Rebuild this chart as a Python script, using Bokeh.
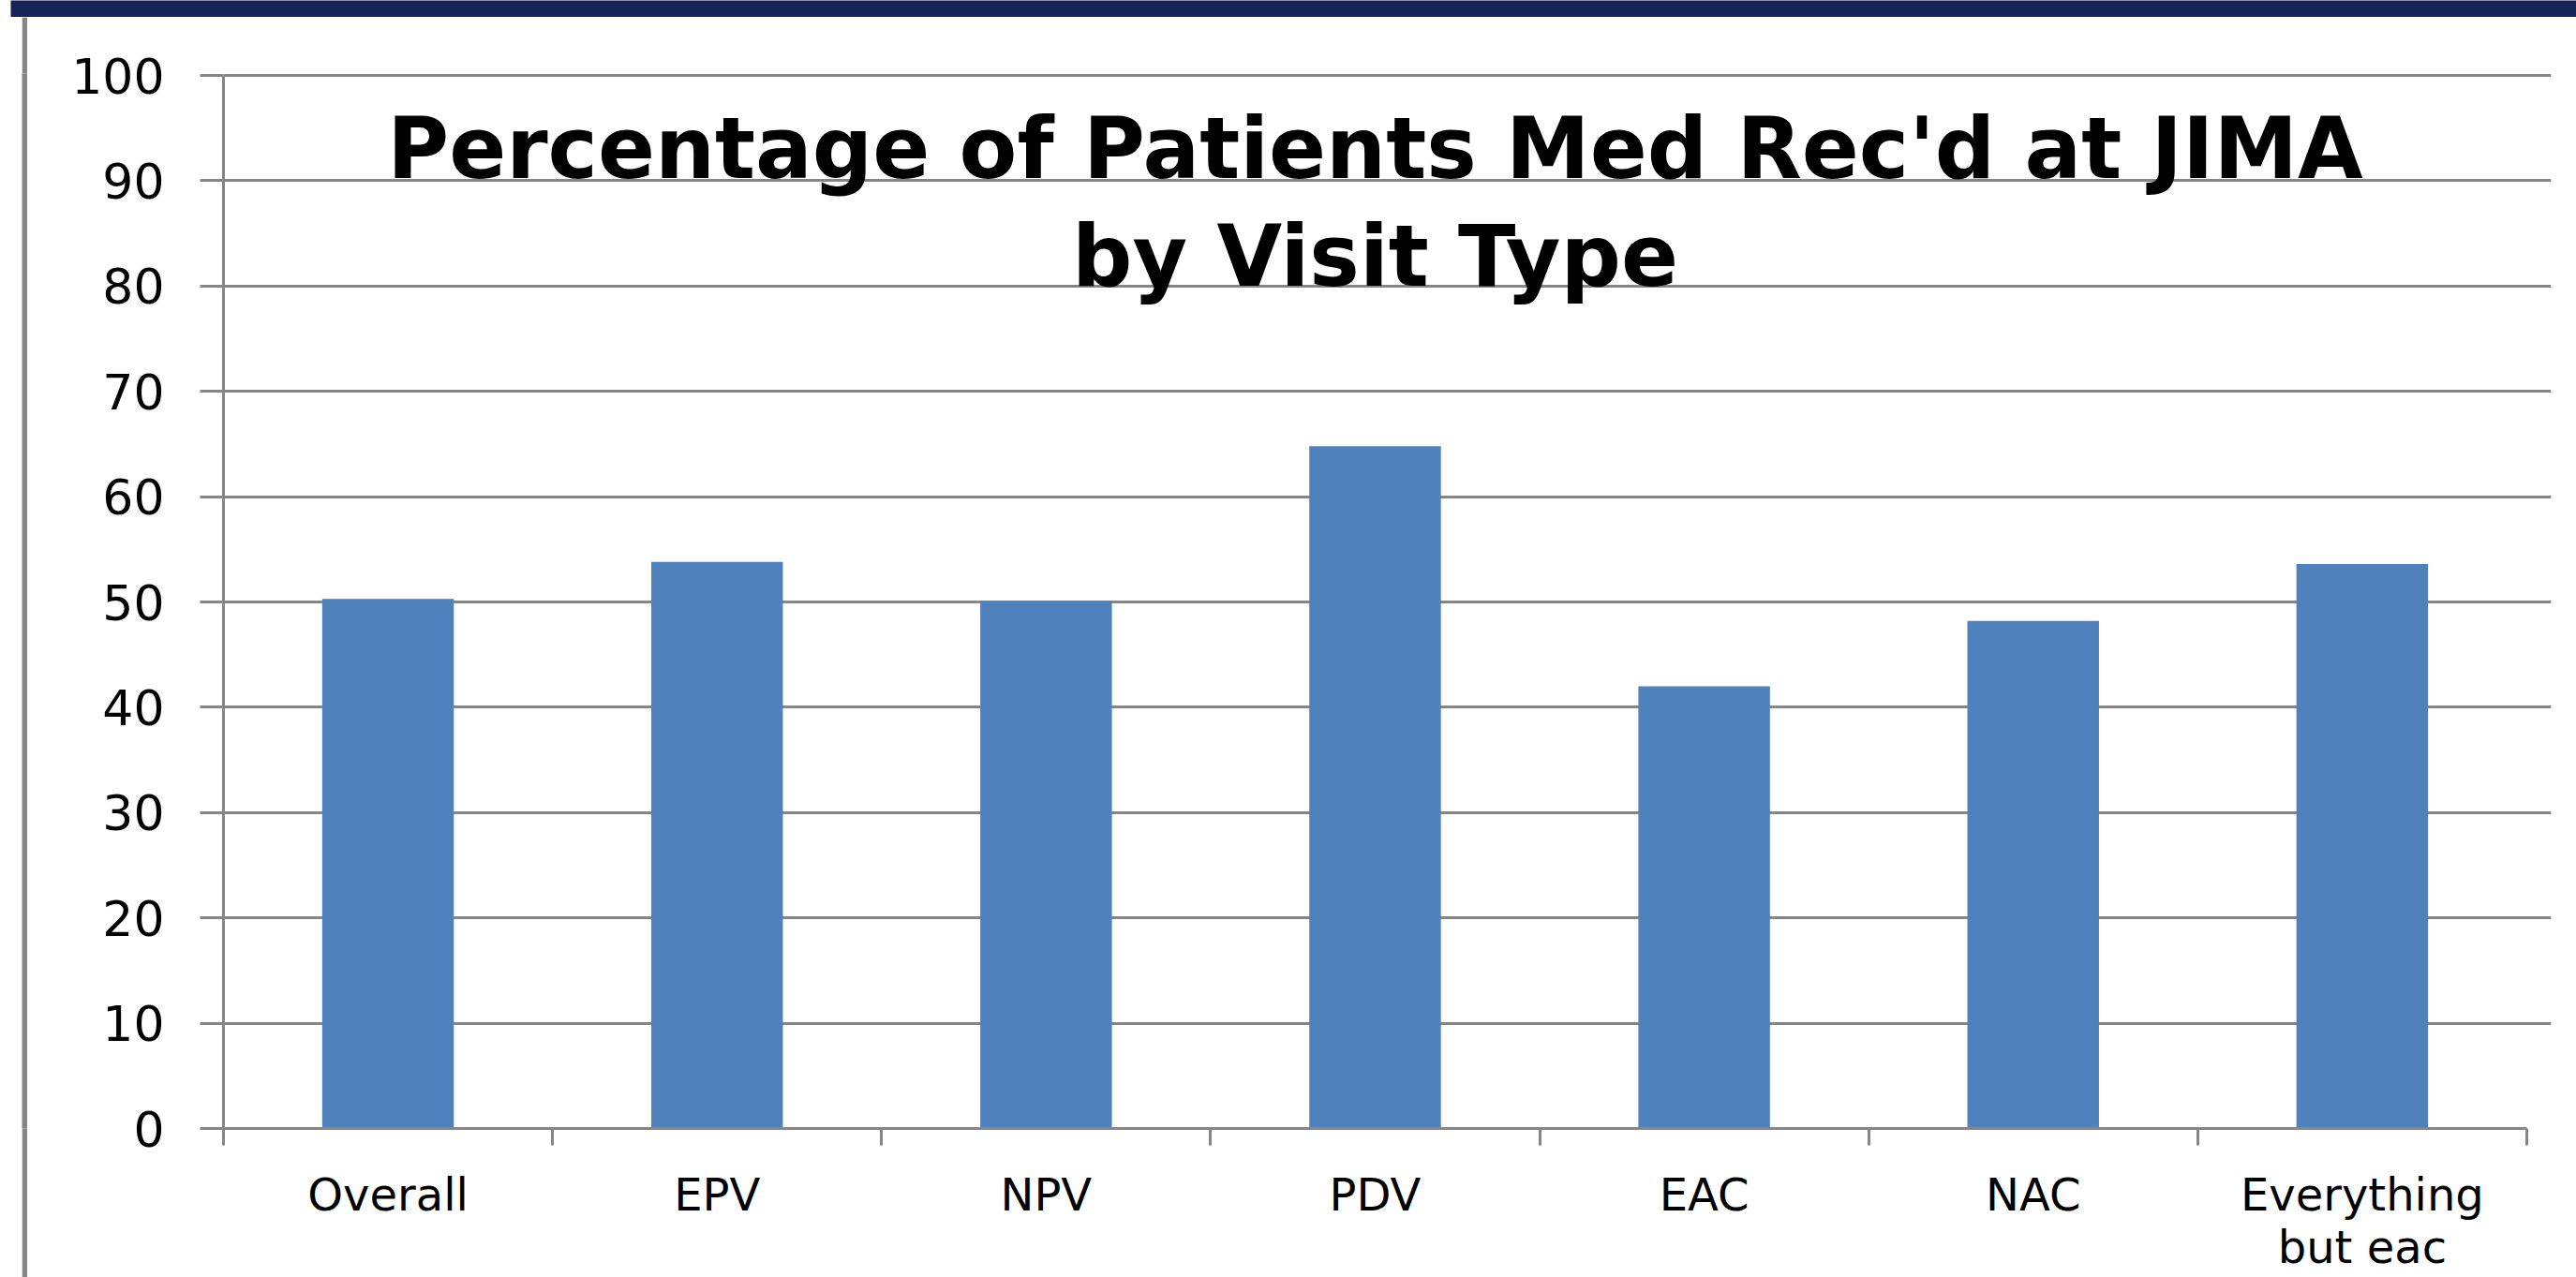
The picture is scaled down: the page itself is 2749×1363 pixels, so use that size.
from bokeh.plotting import figure
from bokeh.layouts import column, row
from bokeh.models import Range1d, FixedTicker, Label, Spacer
from bokeh.embed import file_html
from bokeh.resources import INLINE

# ---- data ----
categories = ["Overall", "EPV", "NPV", "PDV", "EAC", "NAC", "Everything\nbut eac"]
values = [50.3, 53.8, 50.1, 64.8, 42.0, 48.2, 53.6]
y_ticks = [0, 10, 20, 30, 40, 50, 60, 70, 80, 90, 100]
title_lines = ["Percentage of Patients Med Rec'd at JIMA", "by Visit Type"]

GRAY = "#868686"
BAR = "#4F81BD"
NAVY = "#162458"

n = len(categories)
xs = [i + 0.5 for i in range(n)]
W, H = 2749, 1363
TOP_H = 18      # navy slide banner
GAP_W = 23      # white slide margin
RULE_W = 6      # grey slide rule
MAIN_W, MAIN_H = W - GAP_W - RULE_W, H - TOP_H

# ---- slide decorations (plain figures, no axes) ----
banner = figure(width=W, height=TOP_H, output_backend="svg", toolbar_location=None,
                x_axis_type=None, y_axis_type=None,
                x_range=Range1d(0, 1), y_range=Range1d(0, 1),
                min_border_left=11, min_border_right=0, min_border_top=0,
                min_border_bottom=0, background_fill_color=NAVY,
                border_fill_color="white", outline_line_color=None)
banner.grid.visible = False

rule = figure(width=RULE_W, height=MAIN_H, output_backend="svg", toolbar_location=None,
              x_axis_type=None, y_axis_type=None,
              x_range=Range1d(0, 1), y_range=Range1d(0, 1),
              min_border=0, background_fill_color=GRAY,
              border_fill_color=GRAY, outline_line_color=None)
rule.grid.visible = False

gap = Spacer(width=GAP_W, height=MAIN_H)

# ---- main chart ----
p = figure(width=MAIN_W, height=MAIN_H, output_backend="svg", toolbar_location=None,
           x_range=Range1d(0, n * 1.0106), y_range=Range1d(0, 100.18),
           min_border_left=209, min_border_right=27, min_border_top=60,
           min_border_bottom=159, background_fill_color="white",
           border_fill_color="white")
p.outline_line_color = None

p.vbar(x=xs, top=values, width=0.4, fill_color=BAR, line_color=None)

# x axis
xa = p.xaxis[0]
xa.ticker = FixedTicker(ticks=xs, minor_ticks=list(range(n + 1)))
xa.major_label_overrides = {x: c for x, c in zip(xs, categories)}
xa.major_tick_line_color = None
xa.major_tick_out = 0
xa.major_tick_in = 0
xa.minor_tick_out = 18
xa.minor_tick_in = 0
xa.minor_tick_line_color = GRAY
xa.minor_tick_line_width = 3
xa.axis_line_color = GRAY
xa.axis_line_width = 3
xa.bounds = (0, n)
xa.major_label_standoff = 24
xa.major_label_text_font = "DejaVu Sans"
xa.major_label_text_font_size = "48px"
xa.major_label_text_line_height = 1.0
xa.major_label_text_color = "black"

# y axis
ya = p.yaxis[0]
ya.ticker = FixedTicker(ticks=y_ticks)
ya.bounds = (0, 100)
ya.major_tick_out = 25
ya.major_tick_in = 0
ya.major_tick_line_color = GRAY
ya.major_tick_line_width = 3
ya.minor_tick_line_color = None
ya.axis_line_color = GRAY
ya.axis_line_width = 3
ya.major_label_standoff = 38
ya.major_label_text_font = "DejaVu Sans"
ya.major_label_text_font_size = "52px"
ya.major_label_text_color = "black"

p.xgrid.visible = False
p.ygrid.ticker = FixedTicker(ticks=y_ticks)
p.ygrid.grid_line_color = GRAY
p.ygrid.grid_line_width = 3

# title inside plot area
p.add_layout(Label(x=n / 2, y=100, text="\n".join(title_lines),
                   text_align="center", text_baseline="top", y_offset=-25,
                   text_font="DejaVu Sans", text_font_style="bold",
                   text_font_size="90px", text_line_height=1.1,
                   text_color="black"))

page = column(banner, row(gap, rule, p, spacing=0), spacing=0)

open("out.html", "w").write(file_html(page, INLINE))
